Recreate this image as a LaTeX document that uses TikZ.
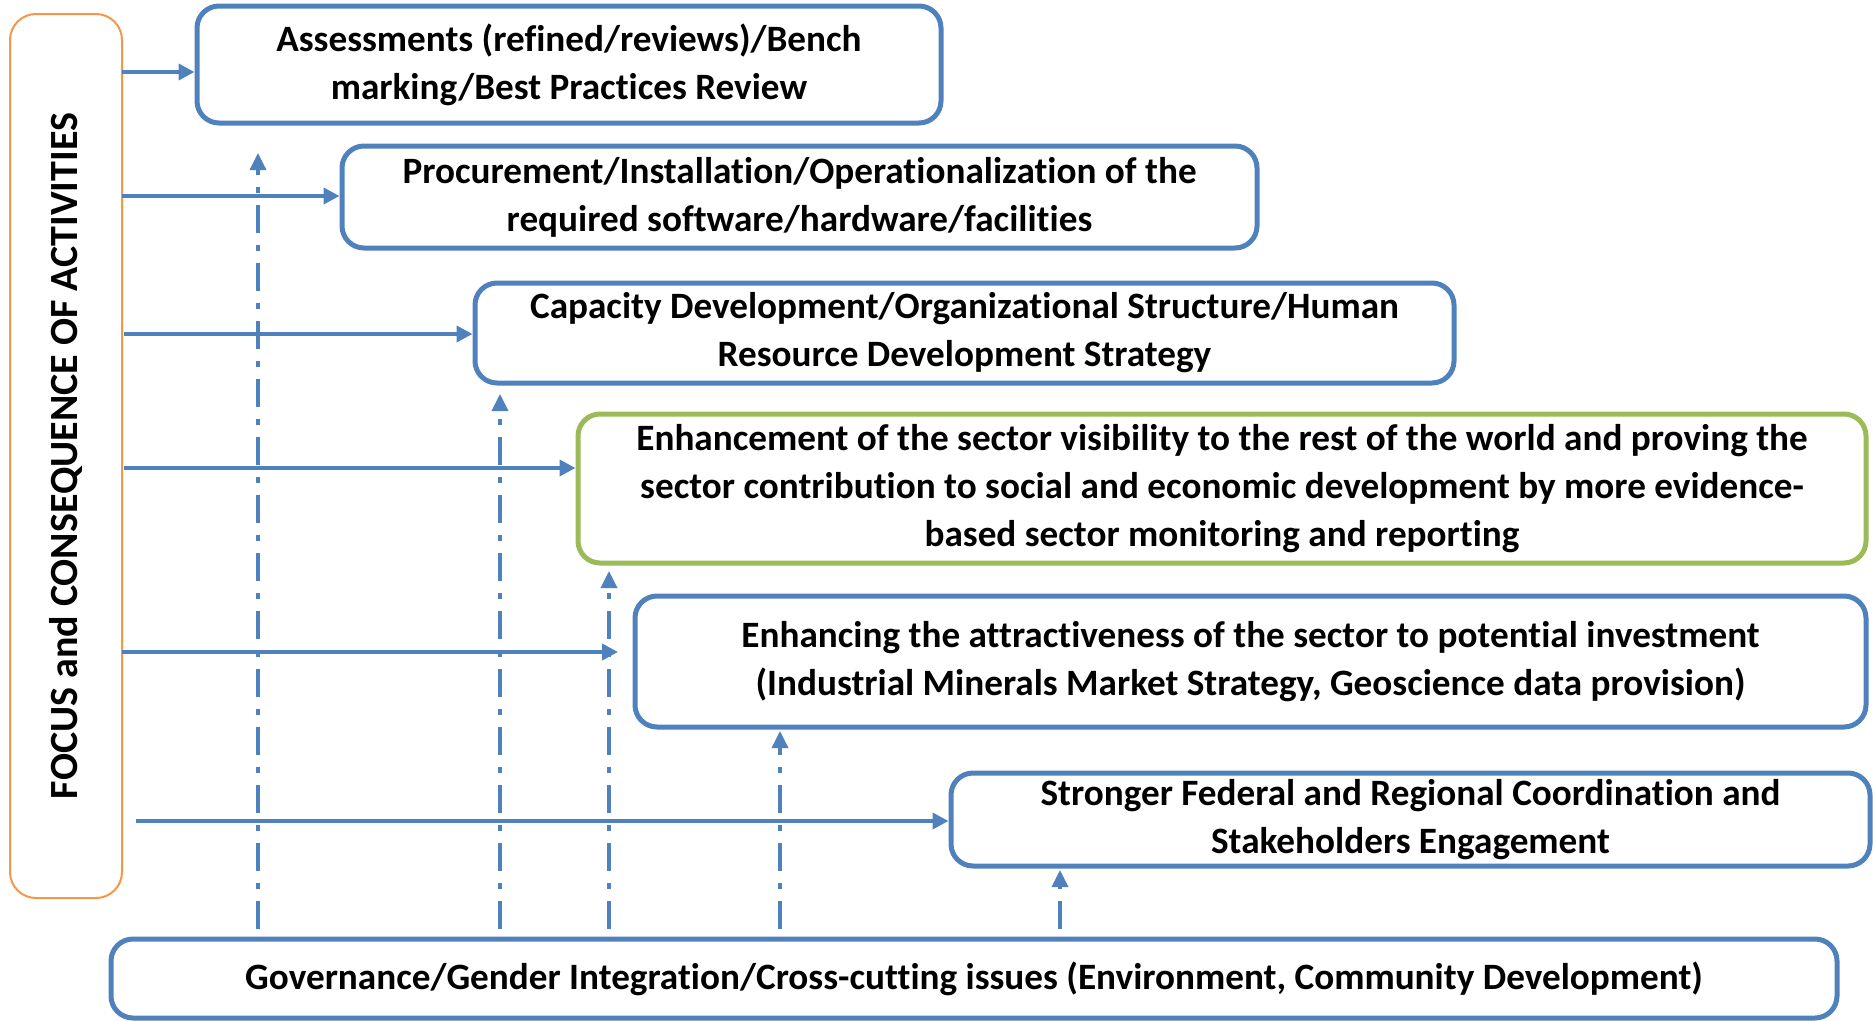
\documentclass[tikz,border=0pt]{standalone}
\usepackage{fontspec}
\setmainfont{Carlito}[Ligatures=NoCommon]
\usetikzlibrary{arrows.meta}
\definecolor{boxblue}{RGB}{79,129,189}
\definecolor{boxgreen}{RGB}{155,187,89}
\definecolor{boxorange}{RGB}{247,150,70}
\tikzset{every picture/.style={line width=0.75pt}}

\begin{document}
\begin{tikzpicture}[x=1pt,y=1pt,yscale=-1,xscale=1,
  actbox/.style={draw=boxblue, line width=5pt, rounded corners=22pt, align=center, inner sep=0pt, font=\fontsize{37.2}{48}\selectfont\bfseries},
  greenbox/.style={actbox, draw=boxgreen},
  focusbox/.style={draw=boxorange, line width=2pt, rounded corners=26pt, inner sep=0pt, font=\fontsize{40}{44}\selectfont\bfseries},
  flowarrow/.style={draw=boxblue, line width=4.5pt, -{Triangle[length=16pt,width=16pt]}},
  supportarrow/.style={draw=boxblue, line width=3.5pt, dash pattern=on 28pt off 12pt on 6pt off 12pt, -{Triangle[length=17pt,width=16pt]}}]
\useasboundingbox (0,0) rectangle (1873,1020);

% Left box
\node [focusbox, rotate=90, minimum width=884pt, minimum height=112pt] (focus) at (66,456) {FOCUS and CONSEQUENCE OF ACTIVITIES};

% Activity boxes
\node [actbox, minimum width=744pt, minimum height=117pt] (b1) at (569,64.5) {Assessments (refined/reviews)/Bench\\marking/Best Practices Review};
\node [actbox, minimum width=915pt, minimum height=102pt] (b2) at (799.5,197) {Procurement/Installation/Operationalization of the\\required software/hardware/facilities};
\node [actbox, minimum width=979pt, minimum height=100pt] (b3) at (964.5,333) {Capacity Development/Organizational Structure/Human\\Resource Development Strategy};
\node [greenbox, minimum width=1288pt, minimum height=149pt] (b4) at (1222,488.5) {Enhancement of the sector visibility to the rest of the world and proving the\\sector contribution to social and economic development by more evidence-\\based sector monitoring and reporting};
\node [actbox, minimum width=1231pt, minimum height=131pt] (b5) at (1250.5,661.5) {Enhancing the attractiveness of the sector to potential investment\\(Industrial Minerals Market Strategy, Geoscience data provision)};
\node [actbox, minimum width=919pt, minimum height=93pt] (b6) at (1410.5,819.5) {Stronger Federal and Regional Coordination and\\Stakeholders Engagement};

% Bottom box
\node [actbox, minimum width=1726pt, minimum height=79pt] (gov) at (974,978.5) {Governance/Gender Integration/Cross-cutting issues (Environment, Community Development)};

% Horizontal arrows
\coordinate (h1) at (122,72);
\coordinate (h2) at (122,196);
\coordinate (h3) at (124,334);
\coordinate (h4) at (124,468);
\coordinate (h5) at (122,652);
\coordinate (h5end) at (618,652);
\coordinate (h6) at (136,821);
\draw [flowarrow] (h1) -- (h1 -| b1.west);
\draw [flowarrow] (h2) -- (h2 -| b2.west);
\draw [flowarrow] (h3) -- (h3 -| b3.west);
\draw [flowarrow] (h4) -- (h4 -| b4.west);
\draw [flowarrow] (h5) -- (h5end);
\draw [flowarrow] (h6) -- (h6 -| b6.west);

% Dash-dot arrows from the bottom box
\coordinate (v1) at (258,929);
\coordinate (v1end) at (258,153);
\coordinate (v2) at (500,929);
\coordinate (v2end) at (500,394);
\coordinate (v3) at (609,929);
\coordinate (v3end) at (609,571);
\coordinate (v4) at (780,929);
\coordinate (v4end) at (780,731);
\coordinate (v5) at (1060,929);
\coordinate (v5end) at (1060,870);
\draw [supportarrow] (v1) -- (v1end);
\draw [supportarrow] (v2) -- (v2end);
\draw [supportarrow] (v3) -- (v3end);
\draw [supportarrow] (v4) -- (v4end);
\draw [supportarrow] (v5) -- (v5end);
\end{tikzpicture}
\end{document}
